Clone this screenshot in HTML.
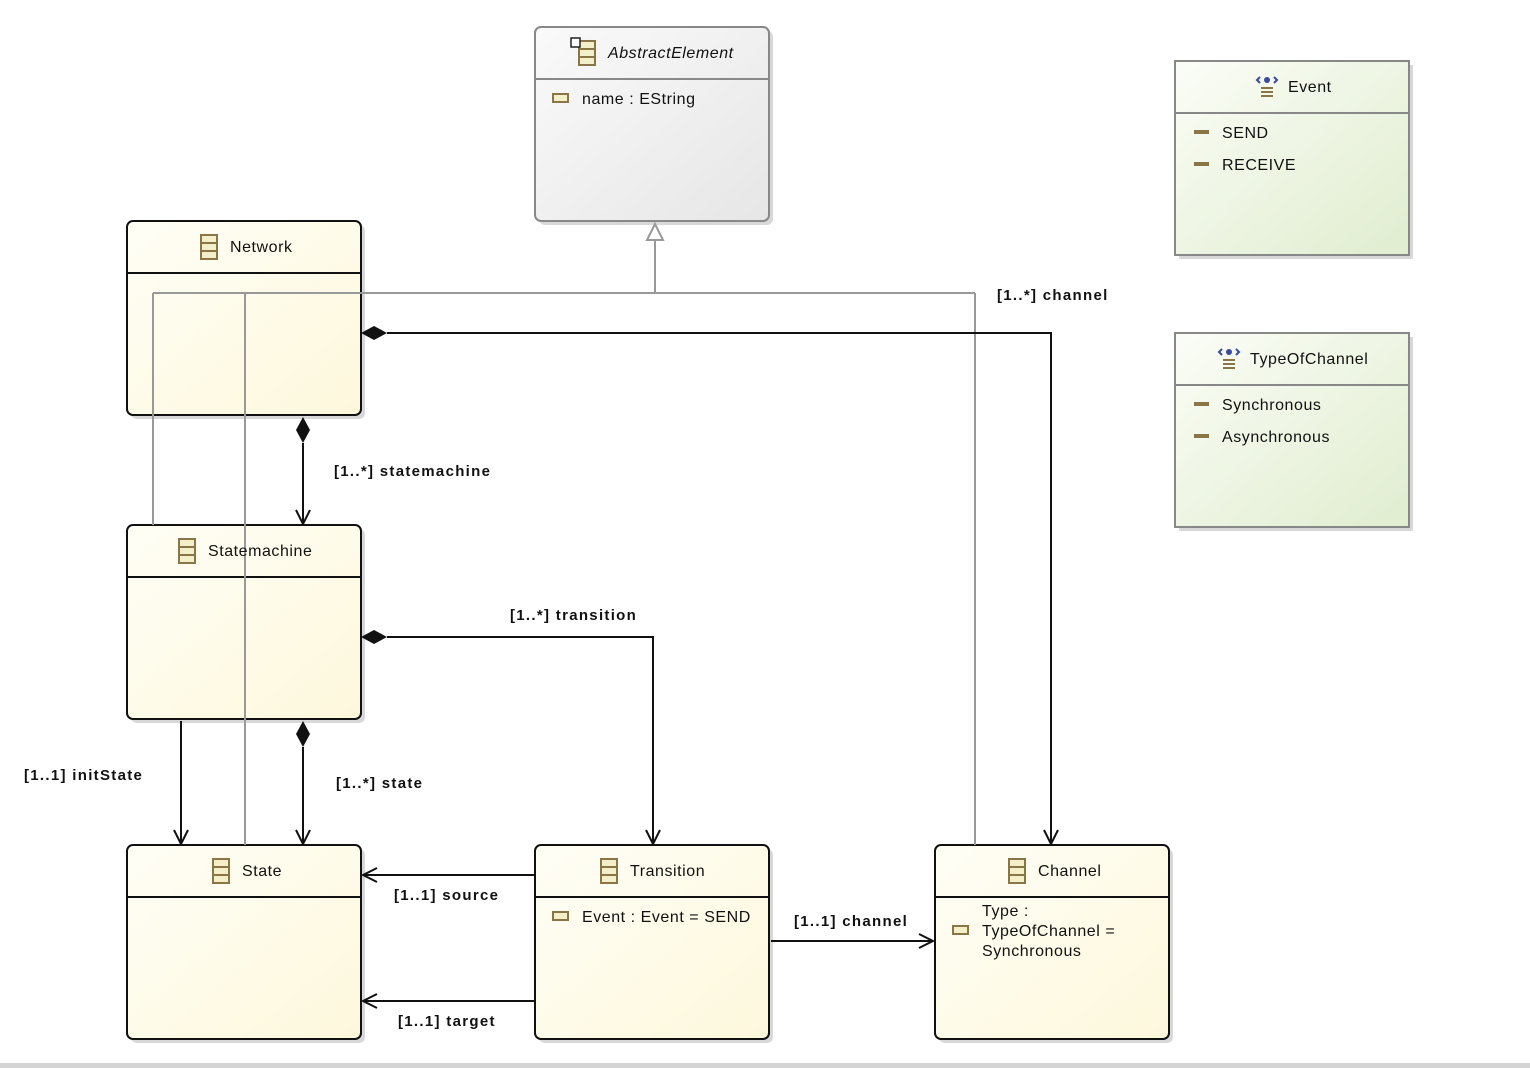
<!DOCTYPE html>
<html><head><meta charset="utf-8"><style>
html,body{margin:0;padding:0;background:#fff;}
svg{display:block;}
text{font-family:"Liberation Sans",sans-serif;font-size:16px;fill:#111;letter-spacing:0.55px;}
.lb{font-weight:bold;font-size:15px;letter-spacing:1.3px;}
</style></head><body>
<svg width="1530" height="1068" viewBox="0 0 1530 1068" xmlns="http://www.w3.org/2000/svg">
<defs>
<linearGradient id="y" x1="0" y1="0" x2="1" y2="1"><stop offset="0" stop-color="#fffef6"/><stop offset="1" stop-color="#fdf8dc"/></linearGradient>
<linearGradient id="g" x1="0" y1="0" x2="1" y2="1"><stop offset="0" stop-color="#fbfdf7"/><stop offset="1" stop-color="#e0edcf"/></linearGradient>
<linearGradient id="a" x1="0" y1="0" x2="1" y2="1"><stop offset="0" stop-color="#fafafa"/><stop offset="1" stop-color="#e6e6e6"/></linearGradient>
<g id="ci"><rect x="0" y="0" width="16" height="24" fill="#f3efc9" stroke="#8a7547" stroke-width="2"/><line x1="0" y1="8" x2="16" y2="8" stroke="#8a7547" stroke-width="2"/><line x1="0" y1="16" x2="16" y2="16" stroke="#8a7547" stroke-width="2"/></g>
<g id="at"><rect x="0" y="0" width="15" height="8" fill="#f3efc9" stroke="#8a7547" stroke-width="2"/></g>
<g id="en"><path d="M3 4 L0 7 L3 10 M17 4 L20 7 L17 10" stroke="#3a4aa0" stroke-width="2" fill="none"/><circle cx="10" cy="7" r="3" fill="#3a4aa0"/><rect x="4" y="14" width="12" height="2" fill="#8a7547"/><rect x="4" y="18" width="12" height="2" fill="#8a7547"/><rect x="4" y="22" width="12" height="2" fill="#8a7547"/></g>
</defs>
<rect x="0" y="1063" width="1530" height="5" fill="#d4d4d4"/>

<g fill="#d8d8d8">
<rect x="539" y="31" width="234" height="194" rx="6"/>
<rect x="131" y="225" width="234" height="194" rx="6"/>
<rect x="131" y="529" width="234" height="194" rx="6"/>
<rect x="131" y="849" width="234" height="194" rx="6"/>
<rect x="539" y="849" width="234" height="194" rx="6"/>
<rect x="939" y="849" width="234" height="194" rx="6"/>
<rect x="1179" y="65" width="234" height="194"/>
<rect x="1179" y="337" width="234" height="194"/>
</g>
<rect x="535" y="27" width="234" height="194" rx="6" fill="url(#a)" stroke="#888" stroke-width="2"/>
<line x1="535" y1="79" x2="769" y2="79" stroke="#888" stroke-width="2"/>
<rect x="1175" y="61" width="234" height="194" fill="url(#g)" stroke="#888" stroke-width="2"/>
<line x1="1175" y1="113" x2="1409" y2="113" stroke="#888" stroke-width="2"/>
<rect x="1175" y="333" width="234" height="194" fill="url(#g)" stroke="#888" stroke-width="2"/>
<line x1="1175" y1="385" x2="1409" y2="385" stroke="#888" stroke-width="2"/>
<g stroke="#111" stroke-width="2" fill="url(#y)">
<rect x="127" y="221" width="234" height="194" rx="6"/>
<rect x="127" y="525" width="234" height="194" rx="6"/>
<rect x="127" y="845" width="234" height="194" rx="6"/>
<rect x="535" y="845" width="234" height="194" rx="6"/>
<rect x="935" y="845" width="234" height="194" rx="6"/>
</g>
<g stroke="#111" stroke-width="2">
<line x1="127" y1="273" x2="361" y2="273"/>
<line x1="127" y1="577" x2="361" y2="577"/>
<line x1="127" y1="897" x2="361" y2="897"/>
<line x1="535" y1="897" x2="769" y2="897"/>
<line x1="935" y1="897" x2="1169" y2="897"/>
</g>

<g stroke="#999" stroke-width="2" fill="none">
<path d="M655 240 V293 M153 293 H975 M153 293 V525 M245 293 V845 M975 293 V845"/>
<path d="M655 224 L647 240 L663 240 Z" fill="#fff"/>
</g>

<g stroke="#111" stroke-width="2" fill="none">
<path d="M387 333 H1051 V843"/>
<path d="M1044 830 L1051 844 L1058 830"/>
<path d="M303 443 V523"/><path d="M296 510 L303 524 L310 510"/>
<path d="M387 637 H653 V843"/><path d="M646 830 L653 844 L660 830"/>
<path d="M181 721 V843"/><path d="M174 830 L181 844 L188 830"/>
<path d="M303 747 V843"/><path d="M296 830 L303 844 L310 830"/>
<path d="M535 875 H363"/><path d="M377 868 L363 875 L377 882"/>
<path d="M535 1001 H363"/><path d="M377 994 L363 1001 L377 1008"/>
<path d="M771 941 H933"/><path d="M919 934 L933 941 L919 948"/>
</g>
<g fill="#111">
<path d="M361 333 L374 326 L387 333 L374 340 Z"/>
<path d="M303 417 L310 430 L303 443 L296 430 Z"/>
<path d="M361 637 L374 630 L387 637 L374 644 Z"/>
<path d="M303 721 L310 734 L303 747 L296 734 Z"/>
</g>

<text class="lb" x="997" y="300">[1..*] channel</text>
<text class="lb" x="334" y="476">[1..*] statemachine</text>
<text class="lb" x="510" y="620">[1..*] transition</text>
<text class="lb" x="24" y="780">[1..1] initState</text>
<text class="lb" x="336" y="788">[1..*] state</text>
<text class="lb" x="394" y="900">[1..1] source</text>
<text class="lb" x="398" y="1026">[1..1] target</text>
<text class="lb" x="794" y="926">[1..1] channel</text>

<use href="#ci" x="579" y="41"/><rect x="571" y="38" width="9" height="9" fill="#fff" stroke="#222" stroke-width="1.5"/>
<text x="608" y="58" font-style="italic">AbstractElement</text>
<use href="#at" x="553" y="94"/><text x="582" y="104">name : EString</text>

<use href="#ci" x="201" y="235"/><text x="230" y="252">Network</text>
<use href="#ci" x="179" y="539"/><text x="208" y="556">Statemachine</text>
<use href="#ci" x="213" y="859"/><text x="242" y="876">State</text>
<use href="#ci" x="601" y="859"/><text x="630" y="876">Transition</text>
<use href="#at" x="553" y="912"/><text x="582" y="922">Event : Event = SEND</text>
<use href="#ci" x="1009" y="859"/><text x="1038" y="876">Channel</text>
<use href="#at" x="953" y="926"/>
<text x="982" y="916">Type :</text><text x="982" y="936">TypeOfChannel =</text><text x="982" y="956">Synchronous</text>

<use href="#en" x="1257" y="73"/><text x="1288" y="92">Event</text>
<rect x="1194" y="130" width="15" height="4" fill="#8a7547"/><text x="1222" y="138">SEND</text>
<rect x="1194" y="162" width="15" height="4" fill="#8a7547"/><text x="1222" y="170">RECEIVE</text>
<use href="#en" x="1219" y="345"/><text x="1250" y="364">TypeOfChannel</text>
<rect x="1194" y="402" width="15" height="4" fill="#8a7547"/><text x="1222" y="410">Synchronous</text>
<rect x="1194" y="434" width="15" height="4" fill="#8a7547"/><text x="1222" y="442">Asynchronous</text>
</svg>
</body></html>
